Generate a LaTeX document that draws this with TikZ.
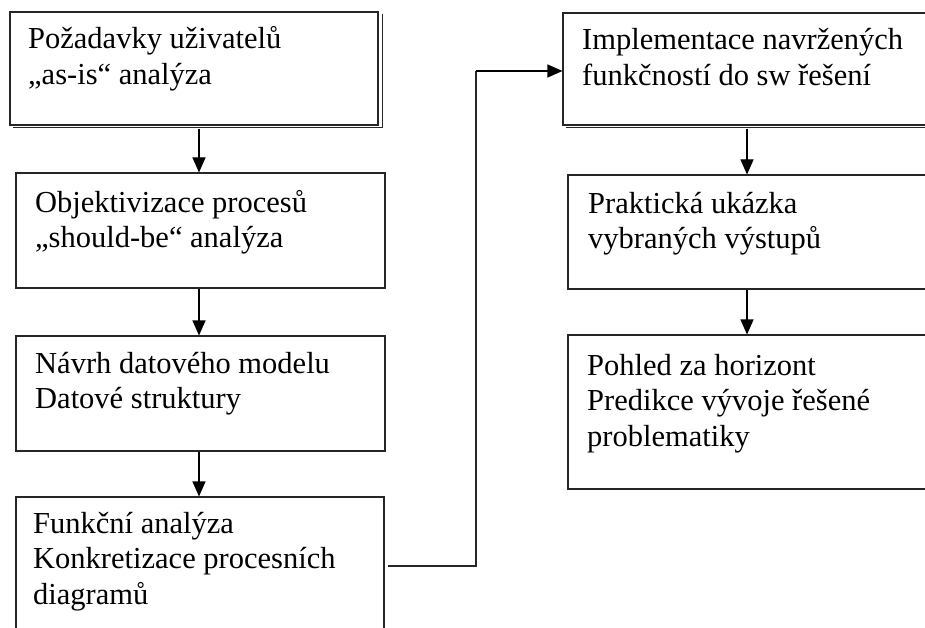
\documentclass[tikz,border=0pt]{standalone}
\usepackage{fontspec}
\setmainfont{Liberation Serif}
\usetikzlibrary{arrows.meta}
\begin{document}
\begin{tikzpicture}[x=1pt,y=-1pt,
  box/.style={draw=black!85, line width=1.1pt, rectangle, inner sep=0pt},
  shade/.style={draw=black!85, line width=1.6pt},
  txt/.style={anchor=base west, inner sep=0pt, align=left, font=\fontsize{30.5}{35.5}\selectfont},
  arr/.style={draw=black, line width=1.1pt, -{Triangle[width=13pt,length=15pt]}},
  link/.style={draw=black!85, line width=1.1pt}]
\clip (0,0) rectangle (925,628);
\fill[white] (0,0) rectangle (925,628);
% left column
\node[box, minimum width=368pt, minimum height=113pt] (b1) at (194,68.5) {};
\draw[shade] (13,127.5) -- (382.5,127.5) -- (382.5,14);
\node[box, minimum width=369pt, minimum height=115pt] (b2) at (200.5,230.5) {};
\node[box, minimum width=369pt, minimum height=115pt] (b3) at (200.5,393.5) {};
\node[box, minimum width=368pt, minimum height=230pt] (b4) at (200,612) {};
% right column
\node[box, minimum width=440pt, minimum height=112pt] (b5) at (783,69) {};
\draw[shade] (566,127.5) -- (925,127.5);
\node[box, minimum width=440pt, minimum height=114pt] (b6) at (788,232) {};
\node[box, minimum width=440pt, minimum height=154pt] (b7) at (788,412) {};
% texts (anchored at the baseline of the last line)
\node[txt] (t1) at (28,84.5) {Požadavky uživatelů\\„as-is“ analýza};
\node[txt] (t2) at (35,247.5) {Objektivizace procesů\\„should-be“ analýza};
\node[txt] (t3) at (35,408.5) {Návrh datového modelu\\Datové struktury};
\node[txt] (t4) at (33,604) {Funkční analýza\\Konkretizace procesních\\diagramů};
\node[txt] (t5) at (582,85.5) {Implementace navržených\\funkčností do sw řešení};
\node[txt] (t6) at (588,248.5) {Praktická ukázka\\vybraných výstupů};
\node[txt] (t7) at (587,446) {Pohled za horizont\\Predikce vývoje řešené\\problematiky};
% connectors
\coordinate (lc) at (199,0);
\coordinate (rc) at (747,0);
\draw[arr] (lc |- b1.south) ++(0,3) -- (lc |- b2.north);
\draw[arr] (lc |- b2.south) -- (lc |- b3.north);
\draw[arr] (lc |- b3.south) -- (lc |- b4.north);
\draw[arr] (rc |- b5.south) ++(0,3) -- (rc |- b6.north);
\draw[arr] (rc |- b6.south) -- (rc |- b7.north);
\coordinate (s4) at (388,566);
\coordinate (kx) at (476,0);
\coordinate (ky) at (0,71);
\draw[link] (s4) -- (kx |- s4) -- (kx |- ky);
\draw[arr] (kx |- ky) -- (b5.west |- ky);
\end{tikzpicture}
\end{document}
